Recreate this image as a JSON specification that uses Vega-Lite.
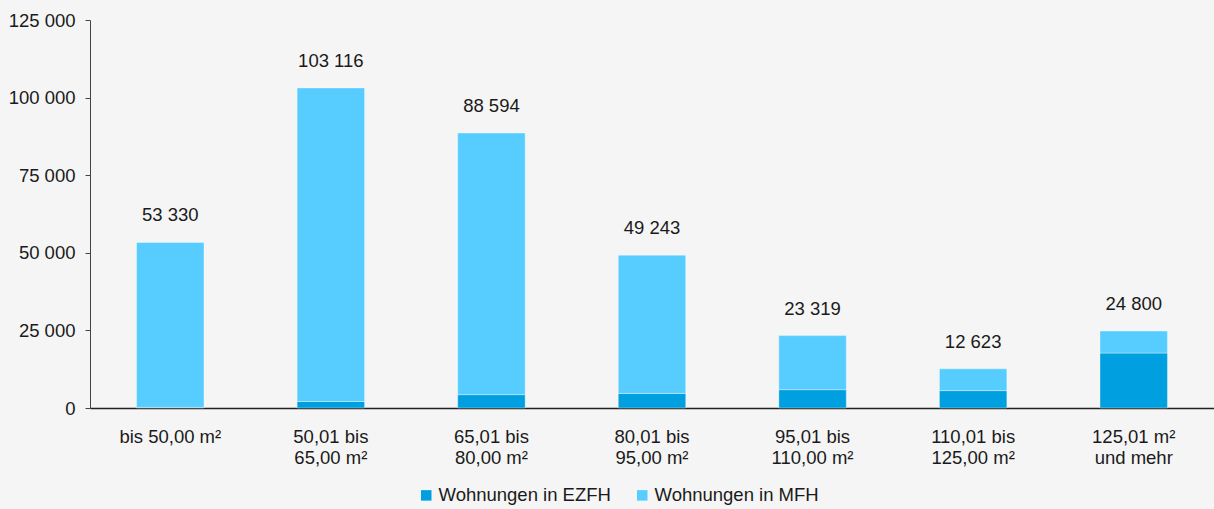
{
  "$schema": "https://vega.github.io/schema/vega-lite/v6.json",
  "width": 1124,
  "height": 388,
  "autosize": {"type": "none"},
  "padding": {"left": 90, "top": 20, "right": 0, "bottom": 101},
  "background": "#f5f5f5",
  "config": {
    "locale": {"number": {"decimal": ",", "thousands": " ", "grouping": [3], "currency": ["", " €"]}},
    "font": "Liberation Sans",
    "view": {"stroke": null}
  },
  "data": {
    "values": [
      {"kat": "bis 50,00 m²", "typ": "Wohnungen in EZFH", "wert": 200},
      {"kat": "bis 50,00 m²", "typ": "Wohnungen in MFH", "wert": 53130},
      {"kat": "50,01 bis|65,00 m²", "typ": "Wohnungen in EZFH", "wert": 2100},
      {"kat": "50,01 bis|65,00 m²", "typ": "Wohnungen in MFH", "wert": 101016},
      {"kat": "65,01 bis|80,00 m²", "typ": "Wohnungen in EZFH", "wert": 4300},
      {"kat": "65,01 bis|80,00 m²", "typ": "Wohnungen in MFH", "wert": 84294},
      {"kat": "80,01 bis|95,00 m²", "typ": "Wohnungen in EZFH", "wert": 4700},
      {"kat": "80,01 bis|95,00 m²", "typ": "Wohnungen in MFH", "wert": 44543},
      {"kat": "95,01 bis|110,00 m²", "typ": "Wohnungen in EZFH", "wert": 5900},
      {"kat": "95,01 bis|110,00 m²", "typ": "Wohnungen in MFH", "wert": 17419},
      {"kat": "110,01 bis|125,00 m²", "typ": "Wohnungen in EZFH", "wert": 5600},
      {"kat": "110,01 bis|125,00 m²", "typ": "Wohnungen in MFH", "wert": 7023},
      {"kat": "125,01 m²|und mehr", "typ": "Wohnungen in EZFH", "wert": 17700},
      {"kat": "125,01 m²|und mehr", "typ": "Wohnungen in MFH", "wert": 7100}
    ]
  },
  "encoding": {
    "x": {
      "field": "kat",
      "type": "nominal",
      "sort": ["bis 50,00 m²", "50,01 bis|65,00 m²", "65,01 bis|80,00 m²", "80,01 bis|95,00 m²", "95,01 bis|110,00 m²", "110,01 bis|125,00 m²", "125,01 m²|und mehr"],
      "scale": {"paddingInner": 0.58, "paddingOuter": 0.29},
      "axis": {
        "title": null,
        "labelAngle": 0,
        "labelExpr": "split(datum.label, '|')",
        "labelFontSize": 18.5,
        "labelColor": "#1a1a1a",
        "labelLineHeight": 21,
        "labelPadding": 19,
        "labelBaseline": "top",
        "ticks": false,
        "domainColor": "#222222",
        "domainWidth": 1.5
      }
    }
  },
  "layer": [
    {
      "mark": {"type": "bar", "stroke": "#ffffff", "strokeOpacity": 0.35, "strokeWidth": 1},
      "encoding": {
        "y": {
          "field": "wert",
          "type": "quantitative",
          "stack": "zero",
          "scale": {"domain": [0, 125000], "nice": false},
          "axis": {
            "title": null,
            "values": [0, 25000, 50000, 75000, 100000, 125000],
            "format": ",d",
            "grid": false,
            "labelFontSize": 18.5,
            "labelColor": "#1a1a1a",
            "tickSize": 5,
            "tickColor": "#444444",
            "domainColor": "#444444",
            "labelPadding": 10
          }
        },
        "color": {
          "field": "typ",
          "type": "nominal",
          "scale": {"domain": ["Wohnungen in EZFH", "Wohnungen in MFH"], "range": ["#009fdf", "#57cdff"]},
          "legend": {
            "title": null,
            "orient": "none",
            "legendX": 327,
            "legendY": 466,
            "direction": "horizontal",
            "symbolType": "square",
            "symbolSize": 110,
            "symbolStrokeWidth": 0,
            "labelFontSize": 18.5,
            "labelLimit": 400,
            "labelColor": "#1a1a1a",
            "labelOffset": 3,
            "columnPadding": 22
          }
        },
        "order": {"field": "typ", "sort": "ascending"}
      }
    },
    {
      "transform": [{"aggregate": [{"op": "sum", "field": "wert", "as": "summe"}], "groupby": ["kat"]}],
      "mark": {"type": "text", "fontSize": 18.5, "color": "#1a1a1a", "baseline": "middle", "dy": -27},
      "encoding": {
        "y": {"field": "summe", "type": "quantitative"},
        "text": {"field": "summe", "type": "quantitative", "format": ",d"}
      }
    }
  ]
}
